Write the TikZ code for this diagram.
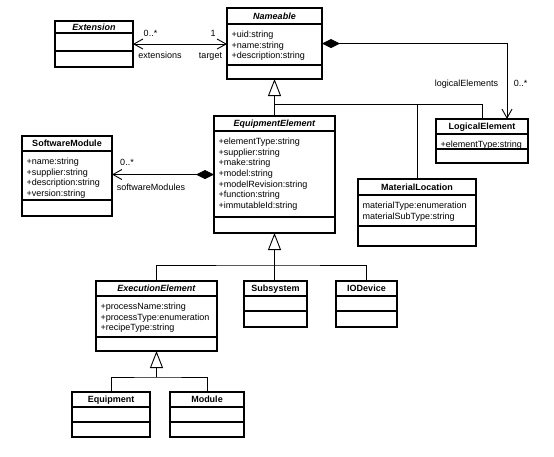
\documentclass[tikz,border=0pt]{standalone}
\usepackage{fontspec}
\setmainfont{Liberation Sans}
\usetikzlibrary{arrows.meta,calc}
\tikzset{
  classbox/.style={draw, line width=1.2pt, inner sep=0pt, outer sep=0pt, anchor=north west},
  divline/.style={line width=1.2pt},
  ctitle/.style={font=\fontsize{9}{10.7}\selectfont\bfseries, anchor=base, inner sep=0pt},
  attr/.style={font=\fontsize{9}{10.7}\selectfont, anchor=base west, inner sep=0pt},
  lbl/.style={font=\fontsize{9}{10.7}\selectfont, anchor=base, inner sep=0pt},
  conn/.style={line width=0.9pt},
  gen/.style={conn, -{Triangle[open, length=17pt, width=13pt]}},
  comp/.style={conn, {Diamond[length=18pt, width=9pt]}-{Straight Barb[length=9pt, width=10pt]}},
  biassoc/.style={conn, {Straight Barb[length=9pt, width=10pt]}-{Straight Barb[length=9pt, width=10pt]}},
}
% #1 name, #2 left, #3 top, #4 right, #5 divider 1, #6 divider 2, #7 bottom, #8 title, #9 attributes
\newcommand\umlclass[9]{%
  \node[classbox, minimum width={(#4)-(#2)}, minimum height={(#7)-(#3)}] (#1) at (#2,#3) {};
  \draw[divline] (#2,#5) -- (#4,#5);
  \draw[divline] (#2,#6) -- (#4,#6);
  \node[ctitle] (#1-title) at ({(#2+#4)/2},{(#3+#5)/2+3.3}) {#8};
  \ifx\relax#9\relax\else
    \foreach \attrtxt [count=\ai] in {#9} {%
      \node[attr] (#1-a\ai) at ({#2+4.5},{#5+13.3+10.7*(\ai-1)}) {\attrtxt};
    }%
  \fi
}
\begin{document}
\begin{tikzpicture}[x=1pt, y=-1pt]
\useasboundingbox (0,0) rectangle (554,456);

\umlclass{extension}{55}{21}{133}{33}{51}{67}{\textit{Extension}}{}
\umlclass{nameable}{227}{8}{322}{24}{65}{79}{\textit{Nameable}}{+uid:string,+name:string,+description:string}
\umlclass{logical}{436}{119}{528}{134}{149}{163}{LogicalElement}{+elementType:string}
\umlclass{equip}{214}{116}{335}{131}{217}{233}{\textit{EquipmentElement}}{+elementType:string,+supplier:string,+make:string,+model:string,+modelRevision:string,+function:string,+immutableId:string}
\umlclass{software}{22}{136}{112}{151}{200}{216}{SoftwareModule}{+name:string,+supplier:string,+description:string,+version:string}
\umlclass{matloc}{358}{179}{476}{195}{226}{246}{MaterialLocation}{materialType:enumeration,materialSubType:string}
\umlclass{exec}{96}{281}{217}{296}{337}{351}{\textit{ExecutionElement}}{+processName:string,+processType:enumeration,+recipeType:string}
\umlclass{subsystem}{244}{281}{307}{296}{311}{327}{Subsystem}{}
\umlclass{iodevice}{336}{281}{397}{296}{311}{327}{IODevice}{}
\umlclass{equipment}{72}{392}{150}{407}{422}{437}{Equipment}{}
\umlclass{module}{170}{392}{244}{407}{422}{437}{Module}{}

% associations
\draw[biassoc] (extension.east) -- (extension.east -| nameable.west);
\draw[comp] (nameable.east) -| ([xshift=25pt]logical.north);
\draw[comp] (equip.west) -- (equip.west -| software.east);

% generalizations
\coordinate (gen1) at ($(nameable.south)+(0,25)$);
\draw[gen] (equip.north) -- (nameable.south);
\draw[conn] (logical.north) |- (gen1);
\draw[conn] (matloc.north) -- (matloc.north |- gen1);

\coordinate (gen2) at ($(equip.south)+(0,32)$);
\draw[gen] (equip.south |- subsystem.north) -- (equip.south);
\draw[conn] (exec.north) |- (gen2) -| (iodevice.north);

\coordinate (gen3) at ($(exec.south)+(0,26)$);
\draw[gen] (gen3) -- (exec.south);
\draw[conn] (equipment.north) |- (gen3) -| (module.north);

% labels
\node[lbl] (l-ext-mult) at (150.5,36.3) {0..*};
\node[lbl] (l-tgt-mult) at (213,36.3) {1};
\node[lbl] (l-ext-role) at (160,58.3) {extensions};
\node[lbl] (l-tgt-role) at (210.5,58.3) {target};
\node[lbl] (l-le-role) at (466.5,86.3) {logicalElements};
\node[lbl] (l-le-mult) at (520.5,86.3) {0..*};
\node[lbl] (l-sw-mult) at (127,165.3) {0..*};
\node[lbl] (l-sw-role) at (151,190.3) {softwareModules};
\end{tikzpicture}
\end{document}
